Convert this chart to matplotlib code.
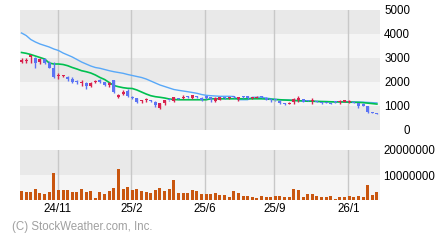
import numpy as np
import matplotlib.pyplot as plt

plt.rcParams['font.family'] = ['Liberation Sans', 'DejaVu Sans']

# weekly candles (open, high, low, close), oldest first
opens = [2833, 2880, 3040, 3000, 2830, 2960, 2780, 2570, 2240, 2240,
         2220, 2125, 2030, 1940, 1970, 1850, 2000, 2080, 1990, 1875,
         2080, 1375, 1500, 1640, 1390, 1320, 1190, 1230, 1220, 1180,
         930, 1110, 1260, 1220, 1330, 1340, 1380, 1330, 1380, 1350,
         1400, 1370, 1210, 1260, 1360, 1330, 1390, 1290, 1400, 1400,
         1330, 1340, 1400, 1350, 1270, 1250, 1210, 1100, 1100, 1150,
         1240, 1290, 1230, 1200, 1190, 1150, 1150, 1125, 1170, 1170,
         1180, 1150, 1160, 1110, 1100, 990, 730, 690]
highs = [3000, 3000, 3110, 3050, 3000, 3000, 2860, 2820, 2360, 2300,
         2250, 2210, 2080, 2080, 2000, 2010, 2080, 2120, 2010, 2010,
         2090, 1500, 1670, 1700, 1420, 1330, 1260, 1350, 1250, 1200,
         1130, 1260, 1270, 1390, 1350, 1460, 1400, 1460, 1400, 1370,
         1420, 1380, 1375, 1390, 1380, 1380, 1410, 1390, 1420, 1420,
         1370, 1400, 1420, 1370, 1290, 1270, 1230, 1120, 1180, 1350,
         1400, 1310, 1250, 1320, 1210, 1170, 1170, 1140, 1190, 1250,
         1260, 1230, 1180, 1130, 1110, 1010, 750, 700]
lows = [2780, 2790, 2800, 2600, 2750, 2740, 2570, 2150, 2140, 2200,
        2050, 1970, 1900, 1850, 1720, 1800, 1950, 1950, 1830, 1780,
        1550, 1330, 1460, 1390, 1300, 1140, 1140, 1180, 1180, 960,
        875, 1040, 1210, 1150, 1280, 1290, 1340, 1290, 1340, 1220,
        1300, 1170, 1150, 1240, 1310, 1310, 1340, 1210, 1340, 1300,
        1310, 1320, 1350, 1230, 1180, 1210, 1100, 1060, 1070, 1070,
        1180, 1160, 1190, 1080, 1150, 1070, 1110, 1080, 1130, 1100,
        1160, 1130, 1120, 930, 990, 700, 690, 650]
closes = [2917, 2900, 3110, 2780, 2960, 2780, 2600, 2220, 2260, 2260,
          2125, 2010, 2000, 1960, 1850, 1970, 2030, 2000, 1875, 1970,
          1600, 1470, 1600, 1430, 1320, 1180, 1220, 1260, 1190, 1040,
          1125, 1250, 1230, 1360, 1300, 1370, 1360, 1450, 1360, 1240,
          1320, 1300, 1320, 1375, 1330, 1360, 1360, 1375, 1360, 1320,
          1360, 1370, 1370, 1250, 1250, 1230, 1125, 1080, 1130, 1290,
          1350, 1180, 1210, 1220, 1170, 1130, 1130, 1100, 1150, 1190,
          1250, 1220, 1140, 1010, 1010, 740, 710, 670]

ma_long = [4042, 3938, 3771, 3667, 3583, 3521, 3458, 3375, 3313, 3208,
           3125, 3042, 2938, 2833, 2750, 2667, 2604, 2571, 2521, 2471,
           2429, 2396, 2363, 2313, 2271, 2229, 2188, 2125, 2042, 1958,
           1875, 1813, 1750, 1688, 1654, 1625, 1596, 1563, 1529, 1479,
           1446, 1429, 1417, 1404, 1404, 1404, 1396, 1263, 1263, 1263,
           1363, 1363, 1363, 1333, 1304, 1279, 1263, 1250, 1250, 1238,
           1221, 1221, 1208, 1196, 1190, 1185, 1185, 1180, 1180, 1180,
           1180, 1175, 1170, 1165, 1160, 1150, 1140, 1130]
ma_short = [3229, 3196, 3146, 3083, 3021, 2958, 2792, 2750, 2750, 2729,
            2679, 2604, 2542, 2471, 2429, 2375, 2292, 2188, 2104, 1979,
            1854, 1804, 1763, 1738, 1729, 1667, 1583, 1500, 1429, 1388,
            1363, 1333, 1292, 1270, 1260, 1260, 1260, 1260, 1260, 1260,
            1260, 1300, 1300, 1300, 1300, 1300, 1300, 1300, 1300, 1300,
            1300, 1300, 1300, 1290, 1280, 1270, 1260, 1250, 1240, 1230,
            1220, 1210, 1200, 1200, 1190, 1185, 1180, 1175, 1170, 1170,
            1165, 1160, 1155, 1150, 1140, 1120, 1100, 1080]

volume = [3.6, 3.2, 3.2, 4.4, 2.8, 2.4, 3.2, 10.8, 4.0, 4.0,
          4.0, 3.2, 3.2, 4.4, 3.2, 3.6, 0.8, 3.2, 2.4, 3.6,
          4.8, 12.4, 4.4, 5.2, 4.0, 4.4, 3.6, 3.2, 2.8, 4.0,
          4.8, 3.6, 4.4, 8.0, 2.8, 2.8, 2.8, 4.0, 3.6, 2.4,
          2.4, 2.4, 2.8, 2.0, 2.0, 1.2, 3.6, 2.8, 1.6, 1.6,
          1.2, 0.8, 1.6, 1.2, 1.2, 1.6, 1.6, 1.2, 1.2, 4.4,
          4.0, 1.2, 2.4, 2.4, 1.6, 1.2, 1.2, 1.6, 0.4, 1.2,
          1.2, 1.6, 1.2, 1.6, 1.2, 6.0, 2.0, 3.2]  # millions of shares

date_pos = [7.8, 23.8, 39.8, 54.8, 70.8]
date_labels = ['24/11', '25/2', '25/6', '25/9', '26/1']
price_ticks = [0, 1000, 2000, 3000, 4000, 5000]
vol_ticks = [10000000, 20000000]

UP = '#d8234f'
DOWN = '#5c74f4'
DARK = '#e9e9e9'
LIGHT = '#f5f5f5'

o = np.array(opens, float)
c = np.array(closes, float)
x = np.arange(len(o))

fig = plt.figure(figsize=(4.4, 2.4), dpi=100)
ax = fig.add_axes([20/440, 1 - 130/240, 360/440, 120/240])
axv = fig.add_axes([20/440, 1 - 200/240, 360/440, 50/240])

xlim = (-0.33, len(o) - 0.33)

# price panel
for k in range(5):
    ax.axhspan(k * 1000, (k + 1) * 1000, color=DARK if k % 2 == 0 else LIGHT, lw=0, zorder=0)
for xp in date_pos:
    ax.axvline(xp, color='#c8c8c8', lw=1, zorder=1)

ax.plot(x, ma_long, color='#58a8f8', lw=1, zorder=2)
ax.plot(x, ma_short, color='#00c050', lw=1.2, zorder=2)

colors = [UP if cc >= oo else DOWN for oo, cc in zip(o, c)]
ax.vlines(x, lows, highs, colors=colors, lw=1, zorder=3)
ax.bar(x, np.maximum(np.abs(c - o), 45), bottom=np.minimum(o, c),
       width=0.65, color=colors, lw=0, zorder=4)

ax.set_xlim(xlim)
ax.set_ylim(0, 5000)
ax.set_xticks([])
ax.yaxis.tick_right()
ax.set_yticks(price_ticks, [str(t) for t in price_ticks])
ax.tick_params(axis='y', length=0, pad=21.6, labelsize=8.3)
for lab in ax.get_yticklabels():
    lab.set_horizontalalignment('right')

# volume panel
axv.axhspan(0, 10000000, color=LIGHT, lw=0, zorder=0)
axv.axhspan(10000000, 20000000, color=DARK, lw=0, zorder=0)
for xp in date_pos:
    axv.axvline(xp, color='#c8c8c8', lw=1, zorder=1)
axv.bar(x, np.array(volume) * 1e6, width=0.65, color='#c9560f', lw=0, zorder=2)
axv.set_xlim(xlim)
axv.set_ylim(0, 20000000)
axv.set_xticks(date_pos, date_labels)
axv.yaxis.tick_right()
axv.set_yticks(vol_ticks, [str(t) for t in vol_ticks])
axv.tick_params(axis='y', length=0, pad=2.2, labelsize=8.3)
axv.tick_params(axis='x', length=0, pad=2, labelsize=8.3)

for a in (ax, axv):
    for s in a.spines.values():
        s.set_visible(False)

fig.text(12/440, 1 - 227/240, '(C) StockWeather.com, Inc.', color='#a0a0a0',
         fontsize=8.3, va='center', ha='left')

fig.savefig('out.png', dpi=100, facecolor='white')
